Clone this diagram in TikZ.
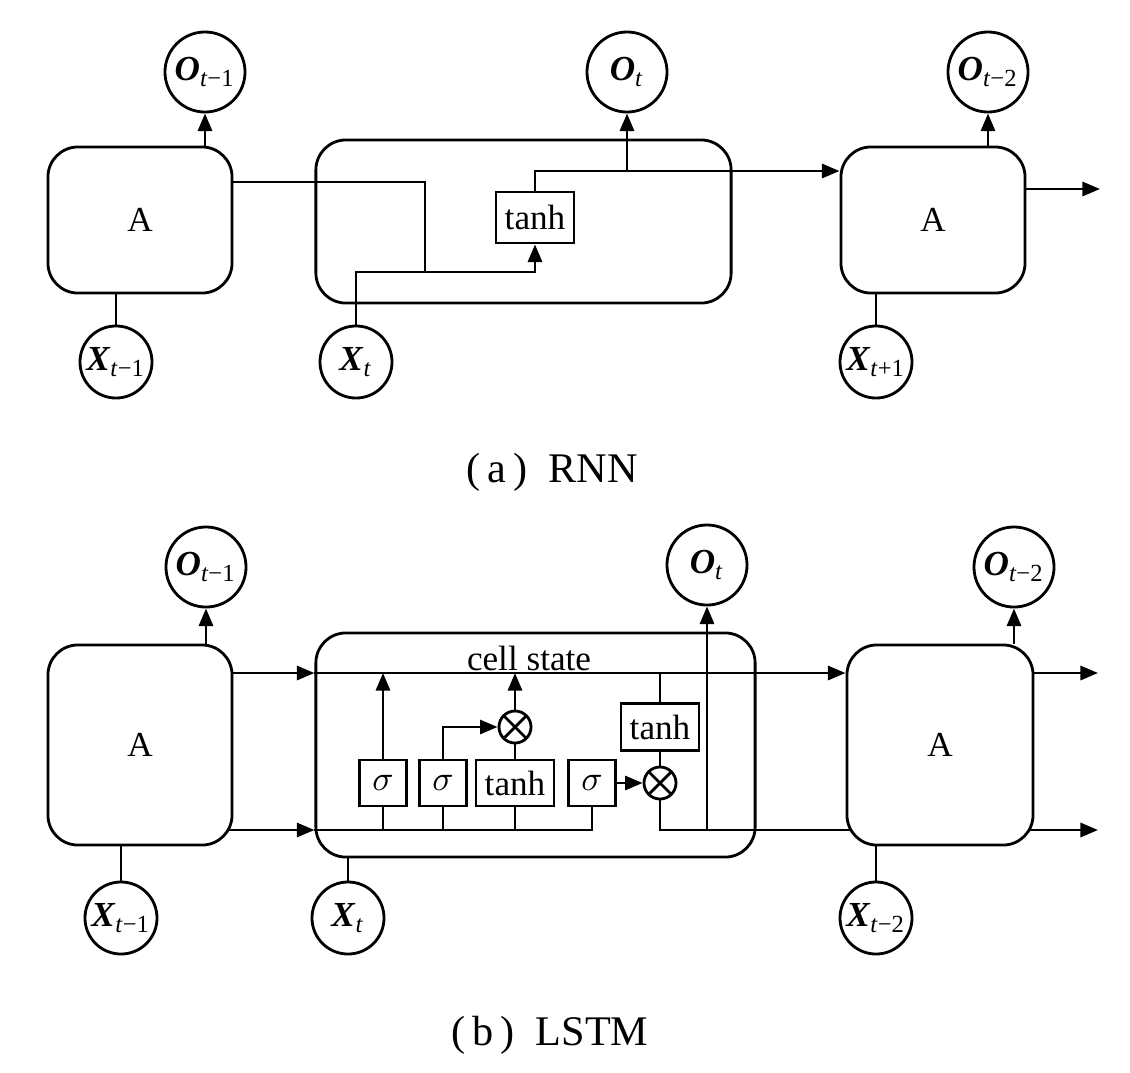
\documentclass[tikz,border=0pt]{standalone}
\usepackage{fontspec}
\setmainfont{Liberation Serif}
\usetikzlibrary{positioning, arrows.meta, calc}
\newcommand{\seqvar}[2]{\textbf{\textit{#1}}\textsubscript{#2}}

\begin{document}
\begin{tikzpicture}[x=0.01cm, y=-0.01cm, line width=0.8pt,
    font=\fontsize{10}{12}\selectfont,
    >={Triangle[length=5pt,width=4pt]},
    cellbox/.style={rectangle, rounded corners=0.3cm, draw, inner sep=0pt},
    varnode/.style={circle, draw, inner sep=0pt, minimum size=#1},
    varnode/.default=0.8cm,
    gatebox/.style={rectangle, draw, inner xsep=2.5pt, inner ysep=0pt,
      minimum height=0.46cm, minimum width=0.47cm},
    mulnode/.style={circle, draw, minimum size=0.32cm, inner sep=0pt,
      path picture={\draw (path picture bounding box.north west) -- (path picture bounding box.south east)
        (path picture bounding box.south west) -- (path picture bounding box.north east);}}]
  \useasboundingbox (0,0) rectangle (1130,1072);

  % (a) RNN
  \node[cellbox, minimum width=1.84cm, minimum height=1.46cm] (rnnA1) at (140,220) {A};
  \node[cellbox, minimum width=4.15cm, minimum height=1.63cm] (rnnA2) at (523.5,221.5) {};
  \node[cellbox, minimum width=1.84cm, minimum height=1.46cm] (rnnA3) at (933,220) {A};
  \node[varnode] (rnnO1) at (205,72) {\seqvar{O}{\textit{t}−1}};
  \node[varnode] (rnnO2) at (627,72) {\seqvar{O}{\textit{t}}};
  \node[varnode] (rnnO3) at (988,72) {\seqvar{O}{\textit{t}−2}};
  \node[varnode=0.72cm] (rnnX1) at (116,362) {\seqvar{X}{\textit{t}−1}};
  \node[varnode=0.72cm] (rnnX2) at (356,362) {\seqvar{X}{\textit{t}}};
  \node[varnode=0.72cm] (rnnX3) at (876,362) {\seqvar{X}{\textit{t}+1}};
  \node[gatebox, minimum height=0.51cm] (rnnT) at (535,217.5) {tanh};
  \coordinate (hbend) at (425,182);
  \coordinate (hjoin) at (425,272);
  \coordinate (htap) at (627,171);
  \coordinate (hend) at (1100,189);

  \draw[->] (rnnA1.north -| rnnO1) -- (rnnO1.south);
  \draw (rnnX1.north) -- (rnnX1.north |- rnnA1.south);
  \draw (rnnA1.east |- hbend) -- (hbend) -- (hjoin);
  \draw[->] (rnnX2.north) |- (hjoin -| rnnT) -- (rnnT.south);
  \draw (rnnT.north) |- (htap);
  \draw[->] (htap) -- (rnnO2.south);
  \draw[->] (htap) -- (htap -| rnnA3.west);
  \draw[->] (rnnA3.north -| rnnO3) -- (rnnO3.south);
  \draw (rnnX3.north) -- (rnnX3.north |- rnnA3.south);
  \draw[->] (rnnA3.east |- hend) -- (hend);

  \node[font=\fontsize{12}{14}\selectfont] (capA) at (552,472) {(\,a\,)\enspace RNN};

  % (b) LSTM
  \node[cellbox, minimum width=1.84cm, minimum height=2cm] (lstmA1) at (140,745) {A};
  \node[cellbox, minimum width=4.39cm, minimum height=2.24cm] (lstmA2) at (535.5,745) {};
  \node[cellbox, minimum width=1.86cm, minimum height=2cm] (lstmA3) at (940,745) {A};
  \node[varnode] (lstmO1) at (206,567) {\seqvar{O}{\textit{t}−1}};
  \node[varnode] (lstmO2) at (707,565) {\seqvar{O}{\textit{t}}};
  \node[varnode] (lstmO3) at (1014,567) {\seqvar{O}{\textit{t}−2}};
  \node[varnode=0.72cm] (lstmX1) at (121,918) {\seqvar{X}{\textit{t}−1}};
  \node[varnode=0.72cm] (lstmX2) at (348,918) {\seqvar{X}{\textit{t}}};
  \node[varnode=0.72cm] (lstmX3) at (876,918) {\seqvar{X}{\textit{t}−2}};

  \node[gatebox] (sigF) at (383,783) {$\sigma$};
  \node[gatebox] (sigI) at (443,783) {$\sigma$};
  \node[gatebox] (tanhC) at (515,783) {tanh};
  \node[gatebox] (sigO) at (592,783) {$\sigma$};
  \node[mulnode] (mulI) at (515,727) {};
  \node[gatebox, minimum height=0.47cm] (tanhH) at (660,727) {tanh};
  \node[mulnode] (mulO) at (660,783) {};
  \node[inner sep=0pt] (cslabel) at (529,658) {cell state};

  \coordinate (cs) at (0,673);
  \coordinate (hs) at (0,830);
  \coordinate (csout) at (1098,673);
  \coordinate (hsout) at (1098,830);

  \draw[->] (lstmA1.north -| lstmO1) -- (lstmO1.south);
  \draw (lstmX1.north) -- (lstmX1.north |- lstmA1.south);
  \draw (lstmX2.north) -- (lstmX2.north |- lstmA2.south);
  \draw (lstmX3.north) -- (lstmX3.north |- lstmA3.south);
  \draw[->] (lstmA3.north -| lstmO3) -- (lstmO3.south);

  % cell state line
  \draw[->] (lstmA1.east |- cs) -- (lstmA2.west |- cs);
  \draw[->] (lstmA2.west |- cs) -- (lstmA3.west |- cs);
  \draw[->] (lstmA3.east |- cs) -- (csout);

  % hidden line and gates
  \draw[->] ($(lstmA1.east |- hs)+(-4,0)$) -- (lstmA2.west |- hs);
  \draw (lstmA2.west |- hs) -| (sigO.south);
  \foreach \g in {sigF, sigI, tanhC}
    \draw (\g.south) -- (\g.south |- hs);
  \draw[->] (sigF.north) -- (sigF.north |- cs);
  \draw[->] (sigI.north) |- (mulI.west);
  \draw (tanhC.north) -- (mulI.south);
  \draw[->] (mulI.north) -- (mulI.north |- cs);
  \draw[->] (sigO.east) -- (mulO.west);
  \draw (tanhH.north |- cs) -- (tanhH.north);
  \draw (tanhH.south) -- (mulO.north);
  \draw (mulO.south) |- ($(lstmA3.west |- hs)+(4,0)$);
  \draw[->] (lstmO2 |- hs) -- (lstmO2.south);
  \draw[->] ($(lstmA3.east |- hs)+(-4,0)$) -- (hsout);

  \node[font=\fontsize{12}{14}\selectfont] (capB) at (550,1035) {(\,b\,)\enspace LSTM};
\end{tikzpicture}
\end{document}
